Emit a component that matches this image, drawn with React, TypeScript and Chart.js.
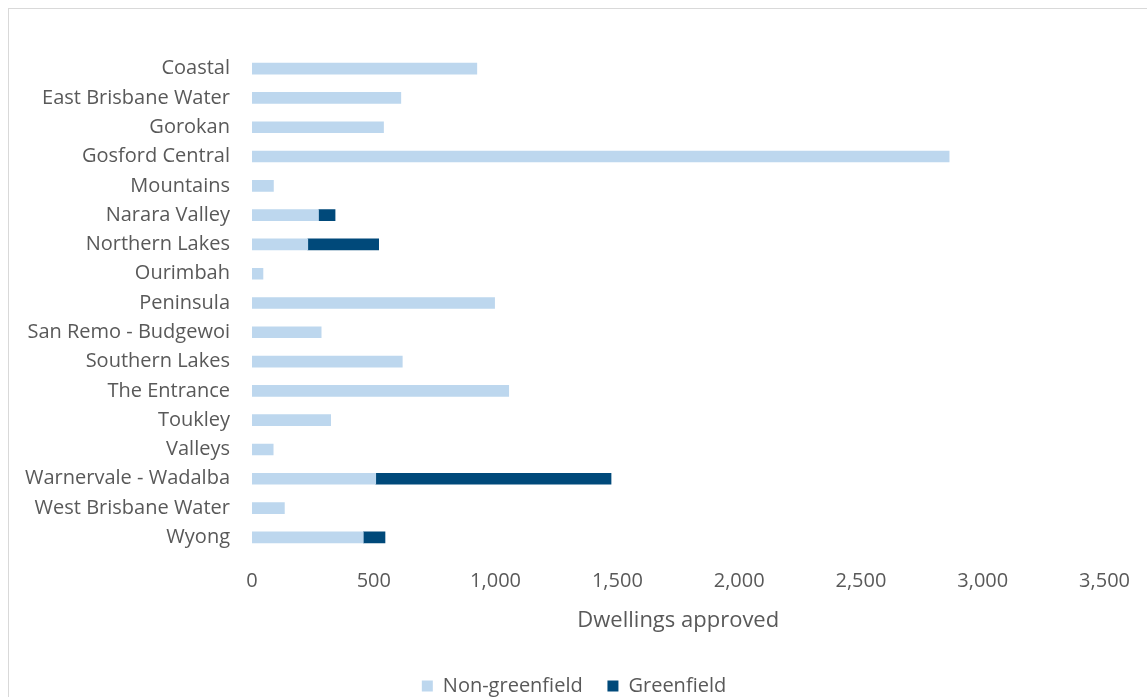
import React, { useEffect, useRef } from "react";
import { Chart, registerables } from "chart.js";

Chart.register(...registerables);

const categories = [
  "Coastal",
  "East Brisbane Water",
  "Gorokan",
  "Gosford Central",
  "Mountains",
  "Narara Valley",
  "Northern Lakes",
  "Ourimbah",
  "Peninsula",
  "San Remo - Budgewoi",
  "Southern Lakes",
  "The Entrance",
  "Toukley",
  "Valleys",
  "Warnervale - Wadalba",
  "West Brisbane Water",
  "Wyong",
];

const nonGreenfield = [923, 611, 540, 2862, 88, 273, 229, 45, 996, 284, 617, 1054, 323, 87, 508, 133, 457];
const greenfield = [null, null, null, null, null, 68, 291, null, null, null, null, null, null, null, 966, null, 89];

const xTicks = [0, 500, 1000, 1500, 2000, 2500, 3000, 3500];

const FONT = "'Open Sans', sans-serif";
const TEXT = "#595959";

export default function App() {
  const ref = useRef<HTMLCanvasElement | null>(null);

  useEffect(() => {
    if (!ref.current) return;
    const chart = new Chart(ref.current, {
      type: "bar",
      data: {
        labels: categories,
        datasets: [
          {
            label: "Non-greenfield    ",
            data: nonGreenfield,
            backgroundColor: "#BDD7EE",
            barThickness: 11,
          },
          {
            label: "Greenfield",
            data: greenfield as any,
            backgroundColor: "#00497A",
            barThickness: 11,
          },
        ],
      },
      options: {
        indexAxis: "y",
        animation: false,
        responsive: true,
        maintainAspectRatio: false,
        layout: { padding: { top: 45, left: 15, right: 23, bottom: 0 } },
        plugins: {
          tooltip: { enabled: false },
          legend: {
            position: "bottom",
            labels: {
              boxWidth: 11,
              boxHeight: 11,
              color: TEXT,
              font: { family: FONT, size: 20 },
              padding: 4,
            },
          },
        },
        scales: {
          x: {
            stacked: true,
            min: 0,
            max: 3500,
            grid: { display: false, drawTicks: false },
            border: { display: false },
            afterBuildTicks: (axis: any) => {
              axis.ticks = xTicks.map((v) => ({ value: v }));
            },
            ticks: {
              color: TEXT,
              font: { family: FONT, size: 20 },
              padding: 17,
              maxRotation: 0,
              callback: (v: any) => Number(v).toLocaleString("en-US"),
            },
            title: {
              display: true,
              text: "Dwellings approved",
              color: TEXT,
              font: { family: FONT, size: 22, lineHeight: 1 },
              padding: { top: 0, bottom: 40 },
            },
          },
          y: {
            stacked: true,
            grid: { display: false, drawTicks: false },
            border: { display: false },
            afterFit: (scale: any) => {
              scale.width = 228;
            },
            ticks: {
              color: TEXT,
              font: { family: FONT, size: 20 },
              padding: 22,
              autoSkip: false,
            },
          },
        },
      },
    });
    return () => chart.destroy();
  }, []);

  return (
    <div style={{ position: "absolute", left: 0, top: 0, width: 1147, height: 697, overflow: "hidden", background: "#fff" }}>
      <div
        style={{
          position: "absolute",
          left: 8,
          top: 8,
          width: 1139,
          height: 698,
          borderLeft: "1px solid #d9d9d9",
          borderTop: "1px solid #d9d9d9",
          boxSizing: "border-box",
        }}
      >
        <canvas ref={ref} />
      </div>
    </div>
  );
}
